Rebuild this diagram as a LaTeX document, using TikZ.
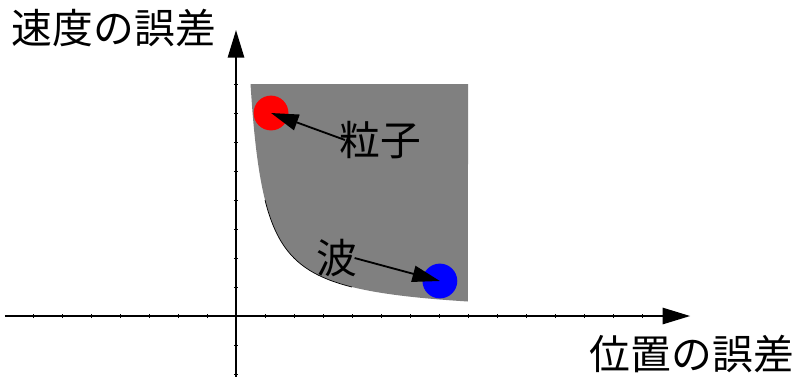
\documentclass[tikz,border=0pt]{standalone}
\usepackage{fontspec}
\newfontfamily\jp{Noto Sans CJK JP}
\usetikzlibrary{arrows.meta}
\begin{document}
\begin{tikzpicture}[
  bigarrow/.style={-{Triangle[length=27pt,width=16pt]}, line width=1.8pt},
  lbl/.style={font=\jp\fontsize{40}{40}\selectfont, inner sep=0pt},
  tick/.style={line width=0.6pt}
]
\useasboundingbox (-8.138,-2.069) rectangle (19.379,10.897);
% shaded region
\fill[gray] plot[domain=0.5:8, samples=120, smooth] (\x,{4/\x}) -- (8,8) -- (0.5,8) -- cycle;
\draw[line width=0.7pt] plot[domain=1:4, samples=80, smooth] (\x,{4/\x});
% ticks
\foreach \i in {-7,...,15} \draw[tick] (\i,-0.07) -- (\i,0.07);
\foreach \j in {-2,...,8} \draw[tick] (-0.07,\j) -- (0.07,\j);
% axes
\coordinate (xs) at (-7.97,0);
\coordinate (xe) at (15.66,0);
\coordinate (ys) at (0,-2.1);
\coordinate (ye) at (0,9.86);
\draw[bigarrow] (xs) -- (xe);
\draw[bigarrow] (ys) -- (ye);
% particles
\fill[red] (1.207,7.0) circle (0.6) coordinate (red);
\fill[blue] (7.03,1.207) circle (0.6) coordinate (blue);
\node[lbl] (ryushi) at (4.97,6.07) {粒子};
\node[lbl] (nami) at (3.48,2.0) {波};
\draw[bigarrow] ([xshift=0.2cm]ryushi.west) -- (red);
\draw[bigarrow] ([xshift=-0.1cm]nami.east) -- (blue);
% axis labels
\node[lbl] (vlab) at (-4.21,9.93) {速度の誤差};
\node[lbl] (xlab) at (15.72,-1.31) {位置の誤差};
\end{tikzpicture}
\end{document}
